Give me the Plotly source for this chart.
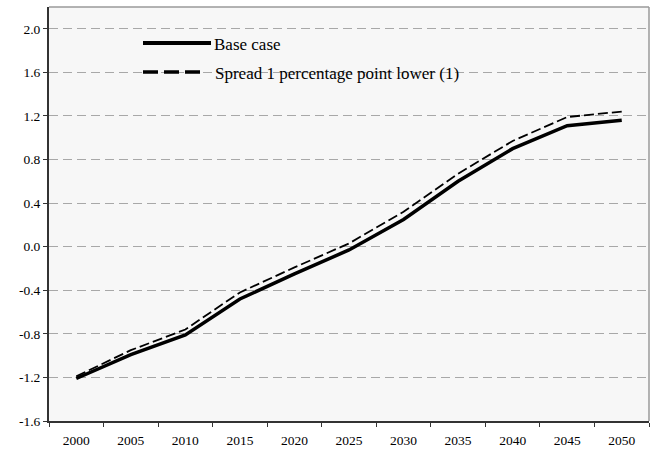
import plotly.graph_objects as go

# Years on the x axis (categories)
years = ['2000', '2005', '2010', '2015', '2020', '2025',
         '2030', '2035', '2040', '2045', '2050']

# Series values
base_case = [-1.21, -0.99, -0.81, -0.48, -0.25, -0.03,
             0.25, 0.60, 0.90, 1.11, 1.16]
spread_lower = [-1.19, -0.95, -0.76, -0.42, -0.19, 0.03,
                0.32, 0.67, 0.97, 1.19, 1.24]

# Y axis ticks and labels (plain hyphen minus, as in the original)
y_ticks = [-1.6, -1.2, -0.8, -0.4, 0.0, 0.4, 0.8, 1.2, 1.6, 2.0]
y_tick_labels = ['-1.6', '-1.2', '-0.8', '-0.4', '0.0', '0.4', '0.8', '1.2', '1.6', '2.0']

names = ['Base case', 'Spread 1 percentage point lower (1)']

W, H = 658, 452
L, R, T, B = 49, 9, 7, 31
plot_w = W - L - R
plot_h = H - T - B


def px(x):
    # pixel x -> paper
    return (x - L) / plot_w


def py(y):
    # pixel y -> paper
    return (H - B - y) / plot_h


serif = 'Liberation Serif'

fig = go.Figure()
fig.add_trace(go.Scatter(x=years, y=base_case, mode='lines', name=names[0],
                         line=dict(color='black', width=3.5), showlegend=False))
fig.add_trace(go.Scatter(x=years, y=spread_lower, mode='lines', name=names[1],
                         line=dict(color='black', width=1.8, dash='10px,4px'),
                         showlegend=False))

# Hand-made legend box so the sample lines can be as long as in the original
shapes = [
    dict(type='rect', xref='paper', yref='paper', x0=px(89), x1=px(511), y0=py(85), y1=py(33),
         fillcolor='#f7f7f7', line=dict(width=0), layer='between'),
    dict(type='line', xref='paper', yref='paper', x0=px(143), x1=px(211), y0=py(43), y1=py(43),
         line=dict(color='black', width=4)),
    dict(type='line', xref='paper', yref='paper', x0=px(143), x1=px(205), y0=py(72), y1=py(72),
         line=dict(color='black', width=3.5, dash='15px,6px')),
    # top and right frame in grey
    dict(type='line', xref='paper', yref='paper', x0=0, x1=1, y0=1, y1=1,
         line=dict(color='#9a9a9a', width=1.5)),
    dict(type='line', xref='paper', yref='paper', x0=1, x1=1, y0=0, y1=1,
         line=dict(color='#9a9a9a', width=1.5)),
]
annotations = [
    dict(xref='paper', yref='paper', x=px(212), y=py(45), text=names[0], showarrow=False,
         xanchor='left', yanchor='middle', font=dict(family=serif, size=17, color='black')),
    dict(xref='paper', yref='paper', x=px(213), y=py(73), text=names[1], showarrow=False,
         xanchor='left', yanchor='middle', font=dict(family=serif, size=17, color='black')),
]

fig.update_layout(
    width=W, height=H,
    margin=dict(l=L, r=R, t=T, b=B),
    font=dict(family=serif, color='black'),
    paper_bgcolor='white',
    plot_bgcolor='#f7f7f7',
    showlegend=False,
    shapes=shapes,
    annotations=annotations,
    xaxis=dict(
        type='category',
        range=[-0.5, 10.5],
        automargin=False,
        tickson='boundaries',
        ticks='outside', ticklen=4, tickcolor='#333333',
        ticklabelstandoff=6,
        showgrid=False,
        showline=True, linecolor='#333333', linewidth=2,
        tickfont=dict(family=serif, size=13.5, color='black'),
    ),
    yaxis=dict(
        range=[-1.6, 2.2],
        automargin=False,
        tickvals=y_ticks, ticktext=y_tick_labels,
        ticks='outside', ticklen=4, tickcolor='#333333',
        showgrid=True, gridcolor='#a8a8a8', gridwidth=1, griddash='9px,5px',
        zeroline=False,
        showline=True, linecolor='#333333', linewidth=2,
        tickfont=dict(family=serif, size=13.5, color='black'),
    ),
)

# the page's default body margin would shift the chart by 8px
fig.write_html('out.html', config={'displayModeBar': False},
               post_script="document.body.style.margin = '0';")
